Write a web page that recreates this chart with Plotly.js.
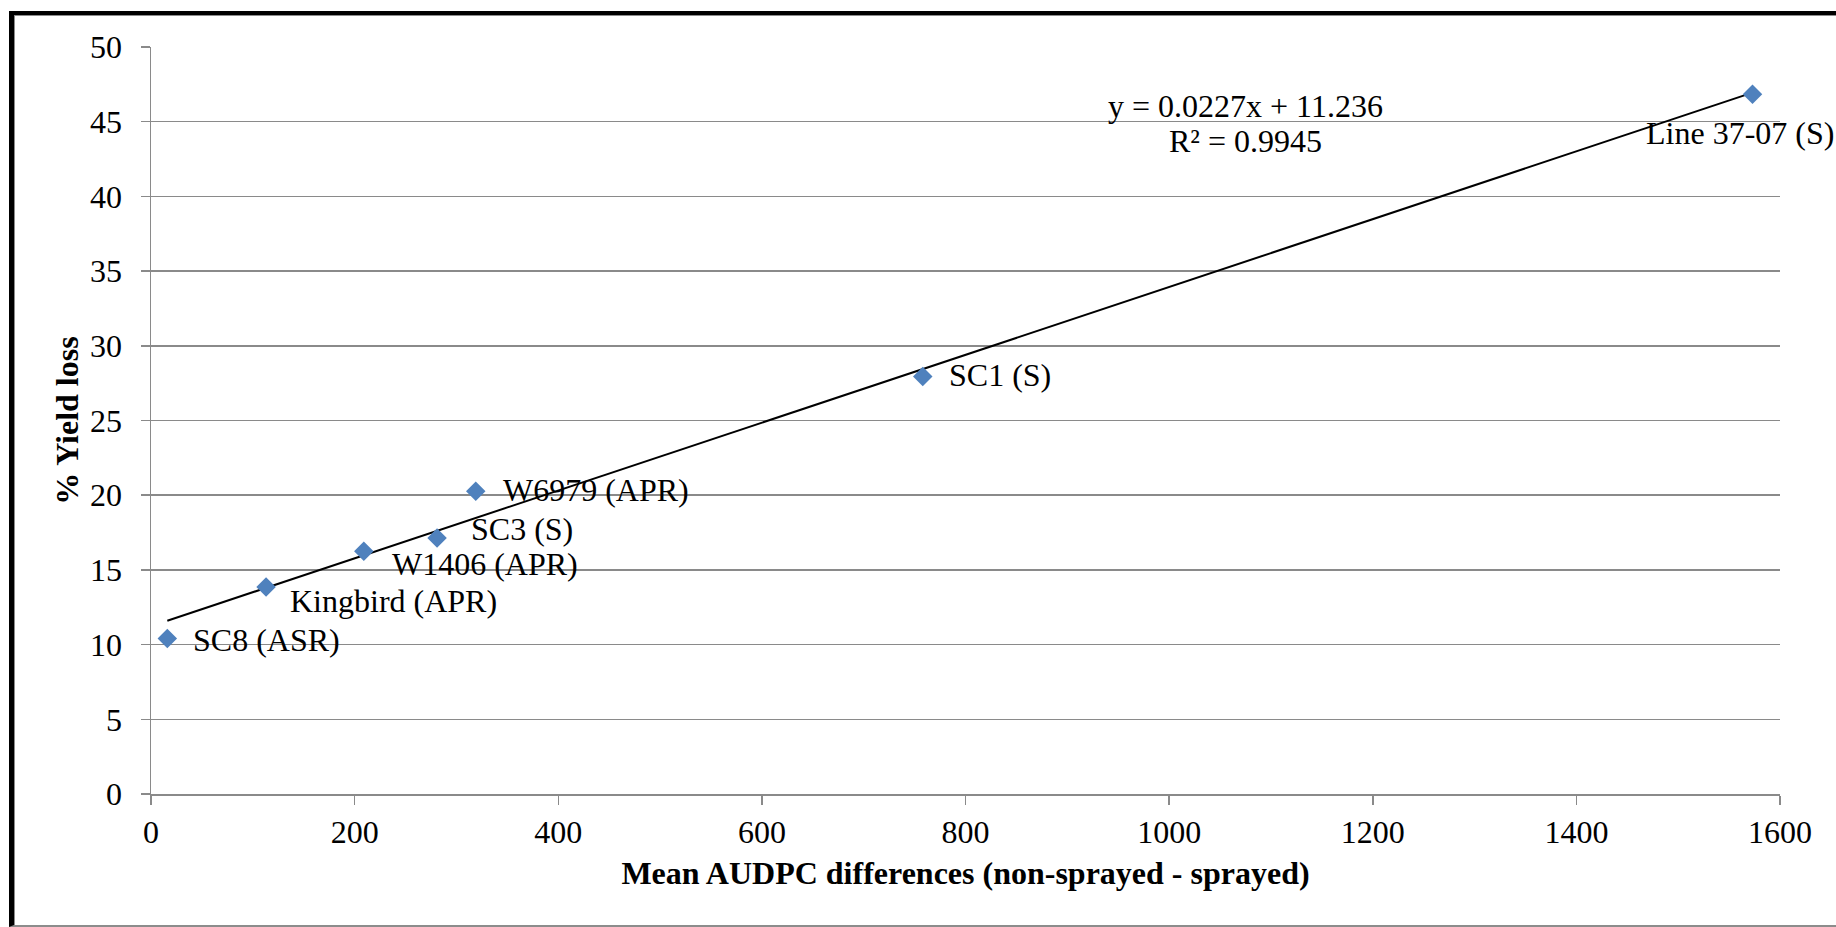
<!DOCTYPE html>
<html>
<head>
<meta charset="utf-8">
<script src="https://cdn.plot.ly/plotly-3.0.1.min.js"></script>
<style>
  html, body { margin: 0; padding: 0; background: #fff; }
  #wrap { position: relative; width: 1836px; height: 927px; overflow: hidden; }
  #chart { position: absolute; left: 0; top: 0; width: 1836px; height: 927px; }
  #frame { position: absolute; left: 9px; top: 11px; width: 1900px; height: 910px;
           border-left: 5px solid #000; border-top: 4px solid #000; border-bottom: 2px solid #8c8c8c;
           pointer-events: none; }
  #frame-inner { position: absolute; left: 0; top: 0; right: 0; bottom: 0;
           border-left: 1px solid #8c8c8c; border-top: 1px solid #8c8c8c; }
</style>
</head>
<body>
<div id="wrap">
  <div id="chart"></div>
  <div id="frame"><div id="frame-inner"></div></div>
</div>
<script>
// ---- data ----
const cultivars = ["SC8 (ASR)", "Kingbird (APR)", "W1406 (APR)", "SC3 (S)", "W6979 (APR)", "SC1 (S)", "Line 37-07 (S)"];
const audpcDiff = [16, 113, 209, 281, 319, 758, 1573];
const yieldLoss = [10.4, 13.86, 16.25, 17.14, 20.27, 27.95, 46.83];

// trendline reported on the chart
const slope = 0.0227;
const intercept = 11.236;
const eqText = "y = 0.0227x + 11.236";
const r2Text = "R² = 0.9945";

// tick labels
const xTicks = [0, 200, 400, 600, 800, 1000, 1200, 1400, 1600];
const yTicks = [0, 5, 10, 15, 20, 25, 30, 35, 40, 45, 50];

// label offsets (pixels) relative to each marker: [dx, dy]
const labelOffsets = [[24, -1], [22, -14], [26, -13], [32, 9], [25, 1], [24, 1], [-13, -39]];

const FONT = "Liberation Serif, Times New Roman, serif";
const FS = 32;
const GRID = "#8a8a8a";

const xMin = Math.min(...audpcDiff), xMax = Math.max(...audpcDiff);
const trendX = [xMin, xMax];
const trendY = trendX.map(v => slope * v + intercept);

const traces = [
  {
    x: trendX, y: trendY, type: "scatter", mode: "lines",
    line: { color: "#000", width: 2 }, hoverinfo: "skip", showlegend: false
  },
  {
    x: audpcDiff, y: yieldLoss, type: "scatter", mode: "markers",
    marker: { symbol: "diamond", size: 15, color: "#4F81BD", line: { width: 0 } },
    text: cultivars, showlegend: false
  }
];

const annotations = cultivars.map((name, i) => {
  const last = i === cultivars.length - 1;
  return {
    x: audpcDiff[i], y: yieldLoss[i], xref: "x", yref: "y",
    text: name, showarrow: false,
    xanchor: last ? "center" : "left", yanchor: "middle",
    xshift: labelOffsets[i][0], yshift: labelOffsets[i][1],
    font: { family: FONT, size: FS, color: "#000" }
  };
});
annotations.push({
  x: 0.672, y: 0.9204, xref: "paper", yref: "paper", text: eqText, showarrow: false,
  xanchor: "center", yanchor: "middle", font: { family: FONT, size: FS, color: "#000" }
});
annotations.push({
  x: 0.672, y: 0.8735, xref: "paper", yref: "paper", text: r2Text, showarrow: false,
  xanchor: "center", yanchor: "middle", font: { family: FONT, size: FS, color: "#000" }
});

const layout = {
  width: 1836, height: 927,
  margin: { l: 151, r: 56, t: 47, b: 133, pad: 0 },
  paper_bgcolor: "#fff", plot_bgcolor: "#fff",
  font: { family: FONT, size: FS, color: "#000" },
  showlegend: false,
  xaxis: {
    range: [0, 1600], tickvals: xTicks, ticktext: xTicks.map(String),
    showgrid: false, zeroline: false,
    showline: true, linecolor: GRID, linewidth: 1.5,
    ticks: "outside", ticklen: 9, tickwidth: 1.5, tickcolor: GRID,
    ticklabelstandoff: 0,
    tickfont: { family: FONT, size: FS, color: "#000" },
    title: { text: "<b>Mean AUDPC differences (non-sprayed - sprayed)</b>", standoff: 12,
             font: { family: FONT, size: FS, color: "#000" } },
    automargin: false
  },
  yaxis: {
    range: [0, 50], tickvals: yTicks, ticktext: yTicks.map(String),
    showgrid: true, gridcolor: GRID, gridwidth: 1.5, zeroline: false,
    showline: true, linecolor: GRID, linewidth: 1.5,
    ticks: "outside", ticklen: 9, tickwidth: 1.5, tickcolor: GRID,
    ticklabelstandoff: 12,
    tickfont: { family: FONT, size: FS, color: "#000" },
    title: { text: "<b>% Yield loss</b>", standoff: 2,
             font: { family: FONT, size: FS, color: "#000" } },
    automargin: false
  },
  annotations: annotations
};

Plotly.newPlot("chart", traces, layout, { displayModeBar: false, staticPlot: true });
</script>
</body>
</html>
